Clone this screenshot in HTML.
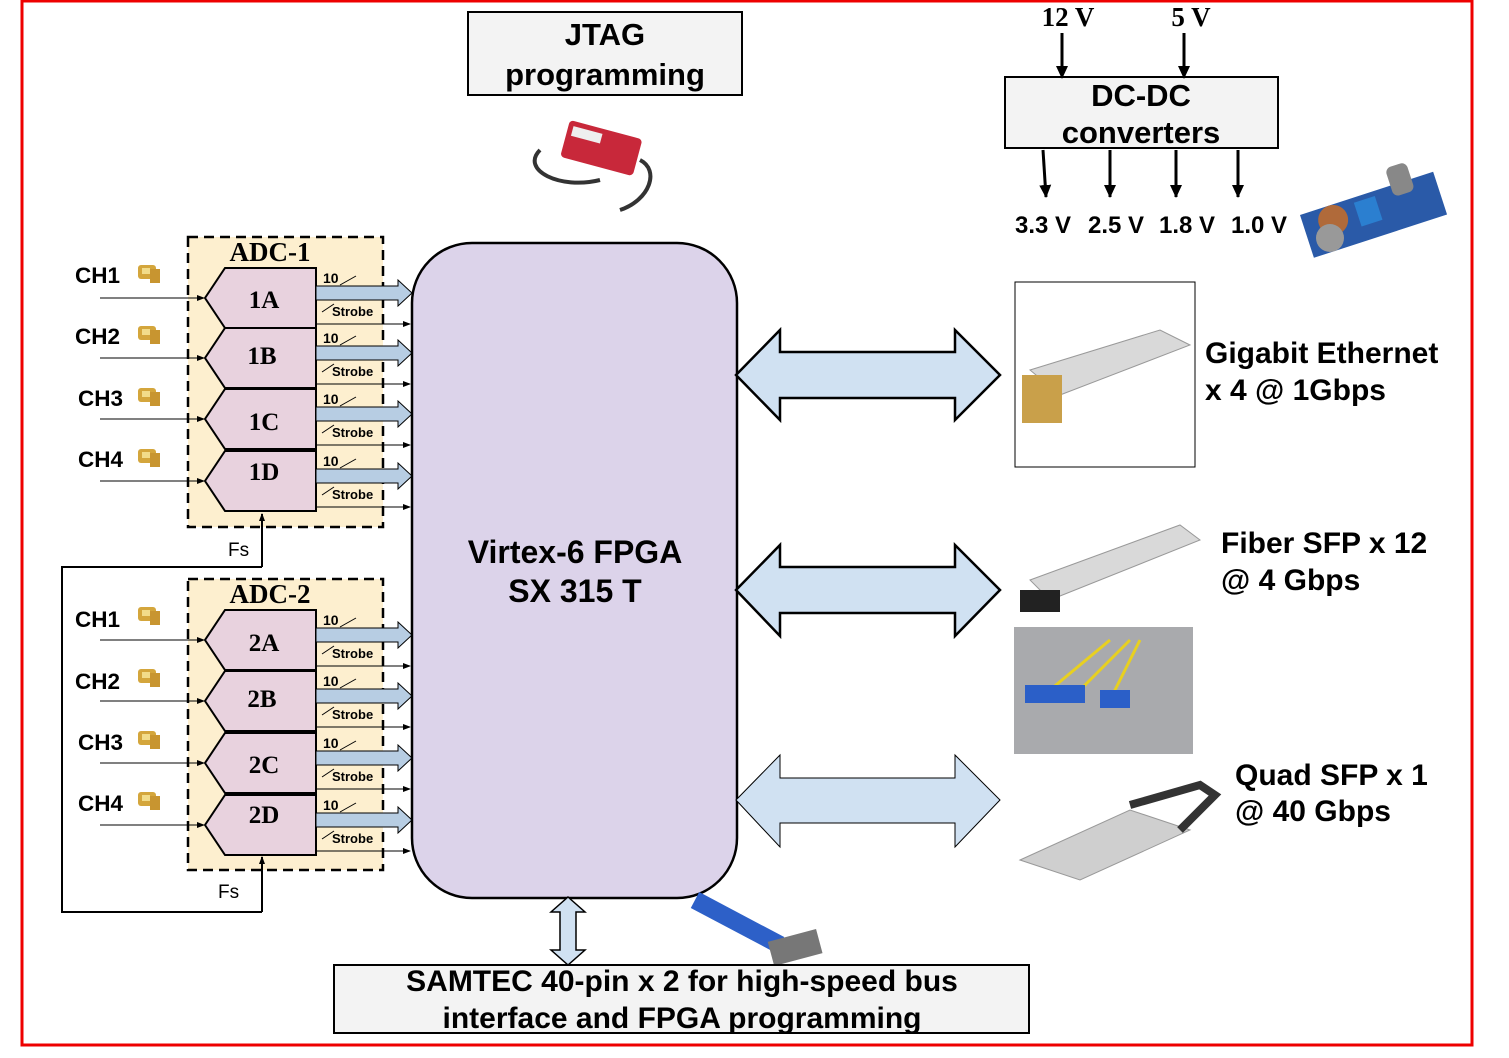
<!DOCTYPE html>
<html><head><meta charset="utf-8"><style>
body{margin:0;background:#fff}
svg{display:block}
.s{font-family:"Liberation Sans",sans-serif;font-weight:bold}
.r{font-family:"Liberation Serif",serif;font-weight:bold}
</style></head><body>
<svg width="1509" height="1058" viewBox="0 0 1509 1058" xmlns="http://www.w3.org/2000/svg">
<defs>
<marker id="a" markerWidth="8" markerHeight="8" refX="7" refY="4" orient="auto" markerUnits="userSpaceOnUse"><path d="M0,1 L8,4 L0,7z" fill="#000"/></marker>
<marker id="b" markerWidth="14" markerHeight="14" refX="12" refY="7" orient="auto" markerUnits="userSpaceOnUse"><path d="M0,1 L13,7 L0,13z" fill="#000"/></marker>
<g id="blk"><polygon points="225,0 316,0 316,60 225,60 205,30" fill="#e8d2de" stroke="#000" stroke-width="2"/>
<polygon points="316,18 398,18 398,12 412,25 398,38 398,32 316,32" fill="#b7cde3" stroke="#000"/>
<line x1="340" y1="17" x2="356" y2="8" stroke="#000"/><line x1="322" y1="44" x2="334" y2="36" stroke="#000"/>
<text x="323" y="15" class="s" font-size="14">10</text><text x="332" y="48" class="s" font-size="13">Strobe</text>
<line x1="316" y1="56" x2="410" y2="56" stroke="#000" marker-end="url(#a)"/>
<line x1="100" y1="30" x2="204" y2="30" stroke="#000" marker-end="url(#a)"/></g>
<g id="con"><rect x="0" y="0" width="18" height="14" rx="3" fill="#d4a63c"/><rect x="12" y="4" width="10" height="14" fill="#c89530"/><rect x="4" y="3" width="8" height="6" fill="#f2dc8a"/></g>
</defs>
<rect x="22" y="1" width="1450" height="1044" fill="none" stroke="#e00" stroke-width="3"/>
<rect x="188" y="237" width="195" height="290" fill="#fdefcf" stroke="#000" stroke-width="2.5" stroke-dasharray="10,6"/>
<rect x="188" y="579" width="195" height="291" fill="#fdefcf" stroke="#000" stroke-width="2.5" stroke-dasharray="10,6"/>
<text x="270" y="261" text-anchor="middle" class="r" font-size="27">ADC-1</text>
<text x="270" y="603" text-anchor="middle" class="r" font-size="27">ADC-2</text>
<g transform="translate(0,268)"><use href="#blk"/></g>
<g transform="translate(0,328)"><use href="#blk"/></g>
<g transform="translate(0,389)"><use href="#blk"/></g>
<g transform="translate(0,451)"><use href="#blk"/></g>
<g transform="translate(0,610)"><use href="#blk"/></g>
<g transform="translate(0,671)"><use href="#blk"/></g>
<g transform="translate(0,733)"><use href="#blk"/></g>
<g transform="translate(0,795)"><use href="#blk"/></g>
<g class="r" font-size="25" text-anchor="middle">
<text x="264" y="308">1A</text><text x="262" y="364">1B</text><text x="264" y="430">1C</text><text x="264" y="480">1D</text>
<text x="264" y="651">2A</text><text x="262" y="707">2B</text><text x="264" y="773">2C</text><text x="264" y="823">2D</text></g>
<g class="s" font-size="22.5">
<text x="75" y="283">CH1</text><text x="75" y="344">CH2</text><text x="78" y="406">CH3</text><text x="78" y="467">CH4</text>
<text x="75" y="627">CH1</text><text x="75" y="689">CH2</text><text x="78" y="750">CH3</text><text x="78" y="811">CH4</text></g>
<g><use href="#con" x="138" y="265"/><use href="#con" x="138" y="326"/><use href="#con" x="138" y="388"/><use href="#con" x="138" y="449"/>
<use href="#con" x="138" y="607"/><use href="#con" x="138" y="669"/><use href="#con" x="138" y="731"/><use href="#con" x="138" y="792"/></g>
<polyline points="262,567 62,567 62,912 262,912" fill="none" stroke="#000" stroke-width="2"/>
<line x1="262" y1="567" x2="262" y2="514" stroke="#000" stroke-width="2" marker-end="url(#a)"/>
<line x1="262" y1="912" x2="262" y2="857" stroke="#000" stroke-width="2" marker-end="url(#a)"/>
<text x="228" y="556" font-family="Liberation Sans,sans-serif" font-size="19">Fs</text>
<text x="218" y="898" font-family="Liberation Sans,sans-serif" font-size="19">Fs</text>
<rect x="412" y="243" width="325" height="655" rx="60" fill="#dcd3ea" stroke="#000" stroke-width="2.5"/>
<text x="575" y="563" text-anchor="middle" class="s" font-size="32">Virtex-6 FPGA</text>
<text x="575" y="602" text-anchor="middle" class="s" font-size="32">SX 315 T</text>
<polygon points="736,375 780,330 780,352 955,352 955,330 1000,375 955,420 955,398 780,398 780,420" fill="#d0e1f2" stroke="#000" stroke-width="2.5"/>
<polygon points="736,590 780,545 780,567 955,567 955,545 1000,590 955,636 955,613 780,613 780,636" fill="#d0e1f2" stroke="#000" stroke-width="2.5"/>
<polygon points="736,800 780,755 780,778 955,778 955,755 1000,800 955,847 955,823 780,823 780,847" fill="#d0e1f2" stroke="#000" stroke-width="1"/>
<polygon points="568,897 585,912 576,912 576,950 585,950 568,965 551,950 560,950 560,912 551,912" fill="#d0e1f2" stroke="#000" stroke-width="1.5"/>
<rect x="468" y="12" width="274" height="83" fill="#f3f3f3" stroke="#000" stroke-width="2"/>
<text x="605" y="45" text-anchor="middle" class="s" font-size="31">JTAG</text>
<text x="605" y="85" text-anchor="middle" class="s" font-size="31">programming</text>
<g transform="translate(570,120) rotate(15)"><rect x="0" y="0" width="75" height="38" rx="4" fill="#c8283a"/><rect x="5" y="5" width="30" height="10" fill="#eee"/></g>
<path d="M540,150 C520,170 560,190 600,180 M640,160 C660,170 650,200 620,210" stroke="#333" stroke-width="4" fill="none"/>
<rect x="1005" y="77" width="273" height="71" fill="#f3f3f3" stroke="#000" stroke-width="2"/>
<text x="1141" y="106" text-anchor="middle" class="s" font-size="31">DC-DC</text>
<text x="1141" y="143" text-anchor="middle" class="s" font-size="31">converters</text>
<text x="1068" y="26" text-anchor="middle" class="r" font-size="27">12 V</text>
<text x="1191" y="26" text-anchor="middle" class="r" font-size="27">5 V</text>
<g stroke="#000" stroke-width="3" marker-end="url(#b)">
<line x1="1062" y1="33" x2="1062" y2="78"/><line x1="1184" y1="33" x2="1184" y2="78"/>
<line x1="1043" y1="150" x2="1046" y2="197"/><line x1="1110" y1="150" x2="1110" y2="197"/><line x1="1176" y1="150" x2="1176" y2="197"/><line x1="1238" y1="150" x2="1238" y2="197"/></g>
<g class="s" font-size="24"><text x="1015" y="233">3.3 V</text><text x="1088" y="233">2.5 V</text><text x="1159" y="233">1.8 V</text><text x="1231" y="233">1.0 V</text></g>
<g transform="translate(1300,215) rotate(-18)"><rect x="0" y="0" width="140" height="45" fill="#2a5aa8"/><circle cx="30" cy="15" r="15" fill="#b06a3a"/><rect x="55" y="5" width="22" height="25" fill="#2b7fd0"/><rect x="95" y="-18" width="22" height="30" rx="6" fill="#888"/></g>
<circle cx="1330" cy="238" r="14" fill="#999"/>
<rect x="1015" y="282" width="180" height="185" fill="#fff" stroke="#000"/>
<polygon points="1030,370 1160,330 1190,345 1060,395" fill="#d9d9d9" stroke="#999"/>
<rect x="1022" y="375" width="40" height="48" fill="#c9a04a"/>
<text x="1205" y="363" class="s" font-size="30">Gigabit Ethernet</text>
<text x="1205" y="400" class="s" font-size="30">x 4 @ 1Gbps</text>
<polygon points="1030,580 1180,525 1200,540 1050,600" fill="#d9d9d9" stroke="#999"/>
<rect x="1020" y="590" width="40" height="22" fill="#222"/>
<rect x="1014" y="627" width="179" height="127" fill="#a9aaad"/>
<path d="M1050,690 L1110,640 M1080,690 L1130,640 M1110,700 L1140,640" stroke="#e8d020" stroke-width="3"/>
<rect x="1025" y="685" width="60" height="18" fill="#2b5fc8"/><rect x="1100" y="690" width="30" height="18" fill="#2b5fc8"/>
<text x="1221" y="553" class="s" font-size="30">Fiber SFP x 12</text>
<text x="1221" y="590" class="s" font-size="30">@ 4 Gbps</text>
<polygon points="1020,860 1130,810 1190,830 1080,880" fill="#cfcfcf" stroke="#999"/>
<path d="M1130,805 L1200,785 L1215,795 L1180,830" stroke="#333" stroke-width="8" fill="none"/>
<text x="1235" y="785" class="s" font-size="30">Quad SFP x 1</text>
<text x="1235" y="821" class="s" font-size="30">@ 40 Gbps</text>
<path d="M695,900 L780,945" stroke="#2d60c8" stroke-width="18"/>
<rect x="770" y="935" width="50" height="25" fill="#777" transform="rotate(-15 795 947)"/>
<rect x="334" y="965" width="695" height="68" fill="#f3f3f3" stroke="#000" stroke-width="2"/>
<text x="682" y="991" text-anchor="middle" class="s" font-size="30">SAMTEC 40-pin x 2 for high-speed bus</text>
<text x="682" y="1028" text-anchor="middle" class="s" font-size="30">interface and FPGA programming</text>
</svg>
</body></html>
